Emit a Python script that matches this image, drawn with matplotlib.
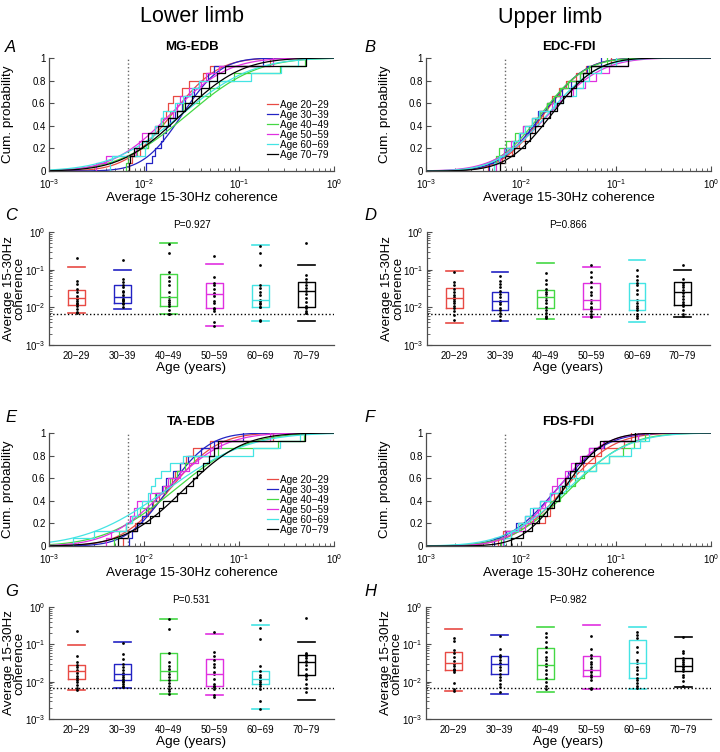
import math
import numpy as np
import matplotlib
matplotlib.use('Agg')
import matplotlib.pyplot as plt
from matplotlib.ticker import LogLocator, NullFormatter

plt.rcParams['font.family'] = ['Liberation Sans', 'DejaVu Sans']
plt.rcParams['mathtext.fontset'] = 'custom'
plt.rcParams['mathtext.rm'] = 'Liberation Sans'
plt.rcParams['mathtext.it'] = 'Liberation Sans:italic'
plt.rcParams['mathtext.bf'] = 'Liberation Sans:bold'

ages = ['20\u221229', '30\u221239', '40\u221249', '50\u221259', '60\u221269', '70\u221279']
colors = ['#e84a44', '#2323c4', '#44d844', '#e030e0', '#44e4e4', '#000000']
threshold = 0.0068

# single-subject coherence values per age group (read from the dot columns)
mg_edb = [
    [0.21, 0.05, 0.042, 0.03, 0.025, 0.02, 0.018, 0.017, 0.015, 0.013, 0.012, 0.011, 0.009, 0.0075, 0.0069],
    [0.18, 0.055, 0.047, 0.038, 0.034, 0.027, 0.025, 0.021, 0.019, 0.017, 0.016, 0.015, 0.013, 0.012, 0.0105],
    [0.49, 0.27, 0.088, 0.062, 0.05, 0.038, 0.026, 0.019, 0.016, 0.014, 0.012, 0.011, 0.0085, 0.0068, 0.0065],
    [0.23, 0.062, 0.045, 0.04, 0.03, 0.024, 0.022, 0.02, 0.015, 0.013, 0.0095, 0.0088, 0.0082, 0.004, 0.0031],
    [0.42, 0.28, 0.135, 0.038, 0.032, 0.026, 0.021, 0.016, 0.015, 0.013, 0.012, 0.0105, 0.0102, 0.0046, 0.0044],
    [0.51, 0.072, 0.058, 0.048, 0.04, 0.032, 0.027, 0.022, 0.018, 0.014, 0.011, 0.0095, 0.0078, 0.0072, 0.007],
]
edc_fdi = [
    [0.088, 0.048, 0.038, 0.03, 0.025, 0.021, 0.019, 0.017, 0.015, 0.013, 0.011, 0.0095, 0.008, 0.0063, 0.0045],
    [0.07, 0.05, 0.042, 0.034, 0.027, 0.023, 0.019, 0.015, 0.014, 0.012, 0.0098, 0.0085, 0.007, 0.0058, 0.0046],
    [0.08, 0.052, 0.042, 0.031, 0.026, 0.022, 0.019, 0.016, 0.013, 0.0105, 0.0087, 0.007, 0.0058, 0.0055, 0.0052],
    [0.135, 0.085, 0.062, 0.047, 0.035, 0.026, 0.021, 0.0155, 0.013, 0.0105, 0.0095, 0.0078, 0.0067, 0.006, 0.0055],
    [0.1, 0.07, 0.052, 0.045, 0.038, 0.028, 0.022, 0.0155, 0.013, 0.011, 0.0095, 0.0083, 0.0068, 0.0058, 0.0052],
    [0.135, 0.055, 0.045, 0.038, 0.034, 0.028, 0.024, 0.02, 0.017, 0.014, 0.0125, 0.011, 0.0085, 0.0068, 0.006],
]
ta_edb = [
    [0.23, 0.049, 0.033, 0.028, 0.024, 0.021, 0.0195, 0.017, 0.0145, 0.0125, 0.011, 0.0095, 0.008, 0.0068, 0.006],
    [0.11, 0.055, 0.04, 0.029, 0.024, 0.02, 0.017, 0.0155, 0.0135, 0.012, 0.0105, 0.0095, 0.0085, 0.0075, 0.007],
    [0.48, 0.255, 0.06, 0.034, 0.027, 0.022, 0.019, 0.0165, 0.013, 0.011, 0.009, 0.0075, 0.0065, 0.0055, 0.0048],
    [0.21, 0.064, 0.05, 0.037, 0.03, 0.024, 0.018, 0.0157, 0.0115, 0.0085, 0.0078, 0.0072, 0.0065, 0.0045, 0.004],
    [0.44, 0.27, 0.14, 0.026, 0.019, 0.015, 0.013, 0.0118, 0.011, 0.0095, 0.0084, 0.0075, 0.0065, 0.003, 0.0018],
    [0.5, 0.06, 0.055, 0.048, 0.042, 0.036, 0.033, 0.028, 0.022, 0.016, 0.0145, 0.0115, 0.0085, 0.0068, 0.0053],
]
fds_fdi = [
    [0.145, 0.12, 0.07, 0.06, 0.045, 0.036, 0.03, 0.026, 0.022, 0.021, 0.02, 0.018, 0.0093, 0.0065, 0.0057],
    [0.17, 0.074, 0.052, 0.046, 0.038, 0.031, 0.029, 0.025, 0.02, 0.016, 0.0135, 0.011, 0.0088, 0.007, 0.0052],
    [0.2, 0.155, 0.118, 0.085, 0.062, 0.046, 0.037, 0.03, 0.026, 0.02, 0.016, 0.0125, 0.01, 0.0078, 0.0062],
    [0.17, 0.073, 0.052, 0.042, 0.034, 0.029, 0.024, 0.021, 0.02, 0.018, 0.015, 0.0135, 0.011, 0.0068, 0.0065],
    [0.22, 0.18, 0.145, 0.085, 0.062, 0.038, 0.032, 0.025, 0.02, 0.016, 0.0125, 0.011, 0.0093, 0.0078, 0.0066],
    [0.16, 0.068, 0.058, 0.044, 0.037, 0.033, 0.029, 0.027, 0.025, 0.022, 0.019, 0.0155, 0.013, 0.0105, 0.0078],
]

# box stats per age group: lower cap, q1, median, q3, upper cap
mg_edb_box = [
    [0.0069, 0.0112, 0.0172, 0.0297, 0.118],
    [0.0092, 0.0133, 0.019, 0.038, 0.096],
    [0.0065, 0.011, 0.019, 0.079, 0.51],
    [0.0031, 0.0096, 0.022, 0.043, 0.145],
    [0.0044, 0.0102, 0.016, 0.038, 0.46],
    [0.0044, 0.0105, 0.027, 0.048, 0.137],
]
edc_fdi_box = [
    [0.0038, 0.0095, 0.0175, 0.032, 0.091],
    [0.0044, 0.0085, 0.0149, 0.025, 0.085],
    [0.0049, 0.0097, 0.019, 0.028, 0.154],
    [0.0054, 0.0088, 0.0155, 0.043, 0.119],
    [0.004, 0.0083, 0.0155, 0.045, 0.185],
    [0.0057, 0.0117, 0.025, 0.046, 0.096],
]
ta_edb_box = [
    [0.0058, 0.0116, 0.0198, 0.0275, 0.095],
    [0.0069, 0.0108, 0.0157, 0.029, 0.117],
    [0.0047, 0.011, 0.019, 0.058, 0.49],
    [0.0044, 0.0075, 0.0157, 0.041, 0.195],
    [0.0018, 0.0084, 0.0118, 0.0196, 0.32],
    [0.0033, 0.0147, 0.033, 0.0512, 0.113],
]
fds_fdi_box = [
    [0.0055, 0.0202, 0.031, 0.064, 0.265],
    [0.0048, 0.016, 0.029, 0.049, 0.176],
    [0.0053, 0.0117, 0.028, 0.081, 0.29],
    [0.0065, 0.0138, 0.02, 0.049, 0.32],
    [0.0063, 0.0122, 0.032, 0.13, 0.3],
    [0.0074, 0.0195, 0.027, 0.042, 0.16],
]

p_values = ['P=0.927', 'P=0.866', 'P=0.531', 'P=0.982']
titles = ['MG-EDB', 'EDC-FDI', 'TA-EDB', 'FDS-FDI']

W, H = 720, 752
fig = plt.figure(figsize=(7.2, 7.52), dpi=100)
axis_grey = '0.3'
label_size = 9.7


def px_axes(left, top, right, bottom):
    return fig.add_axes([left / W, 1 - bottom / H, (right - left) / W, (bottom - top) / H])


def style(ax):
    for s in ['top', 'right']:
        ax.spines[s].set_visible(False)
    for s in ['left', 'bottom']:
        ax.spines[s].set_color(axis_grey)
        ax.spines[s].set_linewidth(0.9)
    ax.tick_params(which='both', direction='in', colors=axis_grey, labelcolor='black', labelsize=7)
    ax.tick_params(which='major', length=3.5, pad=2.5)
    ax.tick_params(which='minor', length=2)


def lognorm_cdf(x, mu, sd):
    z = (np.log10(x) - mu) / (sd * math.sqrt(2))
    return 0.5 * (1 + np.array([math.erf(v) for v in z]))


def cdf_panel(ax, groups, title, legend):
    style(ax)
    xx = np.logspace(-3, 0, 400)
    for vals, c, lab in zip(groups, colors, ages):
        s = np.sort(np.array(vals))
        n = len(s)
        ax.step(np.r_[s[0], s], np.r_[0, np.arange(1, n + 1) / n], where='post', color=c, lw=0.9)
        lv = np.log10(s)
        ax.plot(xx, lognorm_cdf(xx, lv.mean(), lv.std(ddof=1)), color=c, lw=0.9, label='Age ' + lab)
    ax.axvline(threshold, color='0.4', ls=':', lw=1)
    ax.set_xscale('log')
    ax.set_xlim(1e-3, 1)
    ax.set_ylim(0, 1)
    ax.xaxis.set_minor_locator(LogLocator(subs=np.arange(2, 10)))
    ax.xaxis.set_minor_formatter(NullFormatter())
    ax.tick_params(axis='x', which='major', pad=4.5)
    ax.set_yticks([0, 0.2, 0.4, 0.6, 0.8, 1])
    ax.set_yticklabels(['0', '0.2', '0.4', '0.6', '0.8', '1'])
    ax.set_xlabel('Average 15-30Hz coherence', fontsize=label_size, labelpad=1)
    ax.set_ylabel('Cum. probability', fontsize=label_size, va='center')
    ax.yaxis.set_label_coords(-0.143, 0.5)
    ax.set_title(title, fontsize=9.5, fontweight='bold', pad=6)
    if legend:
        ax.legend(loc='lower right', bbox_to_anchor=(1.0, 0.055), frameon=False, fontsize=7.2,
                  handlelength=1.1, handletextpad=0.25, labelspacing=0.0, borderpad=0)


def box_panel(ax, groups, boxes, ptext):
    style(ax)
    for i, (vals, st, c) in enumerate(zip(groups, boxes, colors)):
        stats = [dict(whislo=st[0], q1=st[1], med=st[2], q3=st[3], whishi=st[4])]
        ax.bxp(stats, positions=[i + 1], widths=0.36, capwidths=0.36, showfliers=False,
               boxprops=dict(color=c, lw=1), medianprops=dict(color=c, lw=1),
               whiskerprops=dict(linestyle='none'), capprops=dict(color=c, lw=1.2))
        ax.plot([i + 1] * len(vals), vals, 'o', color='black', ms=2, mew=0)
    ax.axhline(threshold, color='black', ls=':', lw=1)
    ax.set_yscale('log')
    ax.set_ylim(1e-3, 1)
    ax.set_xlim(0.4, 6.6)
    ax.set_xticks(range(1, 7))
    ax.set_xticklabels(ages)
    ax.tick_params(axis='x', which='both', length=0, pad=4)
    ax.yaxis.set_minor_locator(LogLocator(subs=np.arange(2, 10)))
    ax.yaxis.set_minor_formatter(NullFormatter())
    ax.set_ylabel('Average 15-30Hz\ncoherence', fontsize=label_size, linespacing=0.9, va='center')
    ax.yaxis.set_label_coords(-0.122, 0.5)
    ax.set_xlabel('Age (years)', fontsize=label_size, labelpad=1)
    ax.set_title(ptext, fontsize=7.2, pad=3)


ax_a = px_axes(49, 58, 334, 171)
ax_b = px_axes(426, 58, 711, 171)
ax_c = px_axes(49, 232, 334, 345)
ax_d = px_axes(427, 232, 710, 345)
ax_e = px_axes(49, 433, 334, 546)
ax_f = px_axes(426, 433, 711, 546)
ax_g = px_axes(49, 607, 334, 719)
ax_h = px_axes(426, 607, 711, 719)

cdf_panel(ax_a, mg_edb, titles[0], True)
cdf_panel(ax_b, edc_fdi, titles[1], False)
cdf_panel(ax_e, ta_edb, titles[2], True)
cdf_panel(ax_f, fds_fdi, titles[3], False)
box_panel(ax_c, mg_edb, mg_edb_box, p_values[0])
box_panel(ax_d, edc_fdi, edc_fdi_box, p_values[1])
box_panel(ax_g, ta_edb, ta_edb_box, p_values[2])
box_panel(ax_h, fds_fdi, fds_fdi_box, p_values[3])

fig.text(192 / W, 1 - 17 / H, 'Lower limb', ha='center', va='center', fontsize=15.5)
fig.text(550 / W, 1 - 17 / H, 'Upper limb', ha='center', va='center', fontsize=15.5)
letters = [('A', 5, 47), ('B', 364, 47), ('C', 5, 216), ('D', 364, 216),
           ('E', 5, 418), ('F', 364, 418), ('G', 5, 592), ('H', 364, 592)]
for lab, x, y in letters:
    fig.text(x / W, 1 - y / H, lab, ha='left', va='center', fontsize=12, style='italic')

fig.savefig('out.png', dpi=100)
